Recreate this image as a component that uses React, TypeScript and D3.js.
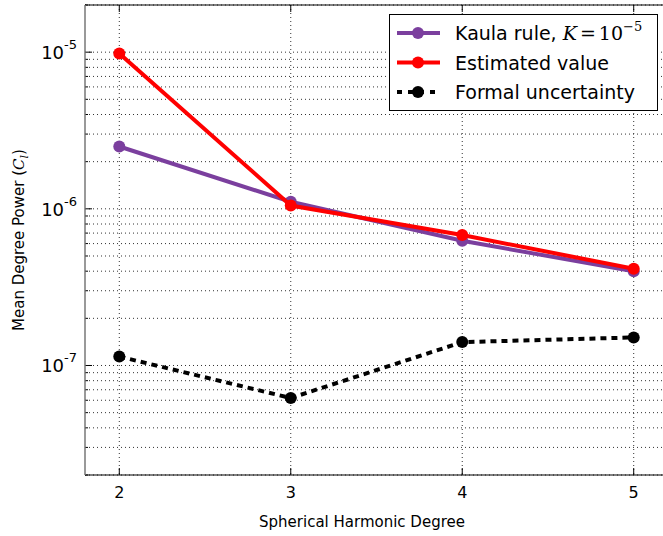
import React from 'react';
import * as d3 from 'd3';

// data
const degrees = [2, 3, 4, 5];
const kaula = [2.5e-6, 1.11e-6, 6.25e-7, 4.0e-7];
const estimated = [9.8e-6, 1.05e-6, 6.8e-7, 4.15e-7];
const formal = [1.14e-7, 6.2e-8, 1.41e-7, 1.51e-7];
const yMajor = [1e-5, 1e-6, 1e-7];
const yExp = ['-5', '-6', '-7'];

const series = [
  { name: 'kaula', values: kaula, color: '#7b3f9e', dash: null },
  { name: 'estimated', values: estimated, color: '#ff0000', dash: null },
  { name: 'formal', values: formal, color: '#000000', dash: '6,5' },
];

export default function App() {
  const width = 663;
  const height = 536;
  const m = { left: 85, top: 5, right: 668, bottom: 475 };

  const x = d3.scaleLinear().domain([1.8, 5.2]).range([m.left, m.right]);
  const y = d3.scaleLog().domain([2e-8, 2e-5]).range([m.bottom, m.top]);

  const minors: number[] = [];
  [1e-8, 1e-7, 1e-6, 1e-5].forEach(d => {
    for (let k = 2; k <= 9; k++) {
      const v = k * d;
      if (v >= 2e-8 && v <= 2e-5) minors.push(v);
    }
  });

  const line = d3.line<number>()
    .x((d, i) => x(degrees[i]))
    .y(d => y(d));

  const font = 'DejaVu Sans, sans-serif';

  return (
    <svg width={width} height={height} style={{ position: 'absolute', left: 0, top: 0 }}>
      <rect x={0} y={0} width={width} height={height} fill="white" />
      {/* grid */}
      <g stroke="#000" strokeWidth={1} strokeDasharray="1,3" opacity={0.8}>
        {minors.concat(yMajor).map((v, i) => (
          <line key={'gy' + i} x1={m.left} x2={m.right} y1={y(v)} y2={y(v)} />
        ))}
        {degrees.map(d => (
          <line key={'gx' + d} x1={x(d)} x2={x(d)} y1={m.top} y2={m.bottom} />
        ))}
      </g>
      {/* ticks */}
      <g stroke="#000" strokeWidth={1}>
        {degrees.map(d => (
          <g key={'tx' + d}>
            <line x1={x(d)} x2={x(d)} y1={m.bottom} y2={m.bottom - 7} />
            <line x1={x(d)} x2={x(d)} y1={m.top} y2={m.top + 7} />
          </g>
        ))}
        {yMajor.map((v, i) => (
          <line key={'ty' + i} x1={m.left} x2={m.left + 7} y1={y(v)} y2={y(v)} />
        ))}
        {minors.map((v, i) => (
          <line key={'tm' + i} x1={m.left} x2={m.left + 3} y1={y(v)} y2={y(v)} />
        ))}
      </g>
      {/* frame */}
      <line x1={m.left} x2={m.right} y1={m.top} y2={m.top} stroke="#000" strokeWidth={1.2} />
      <line x1={m.left} x2={m.right} y1={m.bottom} y2={m.bottom} stroke="#000" strokeWidth={1.2} />
      <line x1={m.left} x2={m.left} y1={m.top} y2={m.bottom} stroke="#777" strokeWidth={1.5} />
      {/* series */}
      {series.map(s => (
        <g key={s.name}>
          <path d={line(s.values) || ''} fill="none" stroke={s.color} strokeWidth={4}
            strokeDasharray={s.dash || undefined} />
          {s.values.map((v, i) => (
            <circle key={i} cx={x(degrees[i])} cy={y(v)} r={6} fill={s.color} />
          ))}
        </g>
      ))}
      {/* tick labels */}
      <g fontFamily={font} fill="#000">
        {degrees.map(d => (
          <text key={'lx' + d} x={x(d)} y={m.bottom + 23} textAnchor="middle" fontSize={16}>{d}</text>
        ))}
        {yMajor.map((v, i) => (
          <text key={'ly' + i} x={m.left - 8} y={y(v) + 7} textAnchor="end" fontSize={18}>
            10<tspan dy={-10} fontSize={13}>{yExp[i]}</tspan>
          </text>
        ))}
      </g>
      {/* axis labels */}
      <text x={362} y={527} textAnchor="middle" fontFamily={font} fontSize={15}>Spherical Harmonic Degree</text>
      <text transform={`translate(24,${(m.top + m.bottom) / 2}) rotate(-90)`} textAnchor="middle"
        fontFamily={font} fontSize={15}>
        Mean Degree Power (<tspan fontFamily="DejaVu Serif, serif" fontStyle="italic">C</tspan>
        <tspan fontFamily="DejaVu Serif, serif" fontStyle="italic" fontSize={11} dy={4}>l</tspan>
        <tspan dy={-4}>)</tspan>
      </text>
      {/* legend */}
      <g>
        <rect x={389.5} y={14.5} width={268} height={96} fill="white" stroke="#000" strokeWidth={1} />
        {series.map((s, i) => {
          const ly = 33 + i * 29.5;
          return (
            <g key={'lg' + s.name}>
              <line x1={397} x2={440} y1={ly} y2={ly} stroke={s.color} strokeWidth={4}
                strokeDasharray={s.dash ? '5,6' : undefined} />
              <circle cx={418} cy={ly} r={6} fill={s.color} />
            </g>
          );
        })}
        <g fontFamily={font} fontSize={19} fill="#000">
          <text x={455} y={40}>
            Kaula rule, <tspan fontFamily="DejaVu Serif, serif" fontStyle="italic">K</tspan>
            <tspan fontFamily="DejaVu Serif, serif" dx={3}>=</tspan>
            <tspan fontFamily="DejaVu Serif, serif" dx={3}>10</tspan>
            <tspan fontFamily="DejaVu Serif, serif" fontSize={13} dy={-9}>−5</tspan>
          </text>
          <text x={455} y={69.5}>Estimated value</text>
          <text x={455} y={99}>Formal uncertainty</text>
        </g>
      </g>
    </svg>
  );
}
